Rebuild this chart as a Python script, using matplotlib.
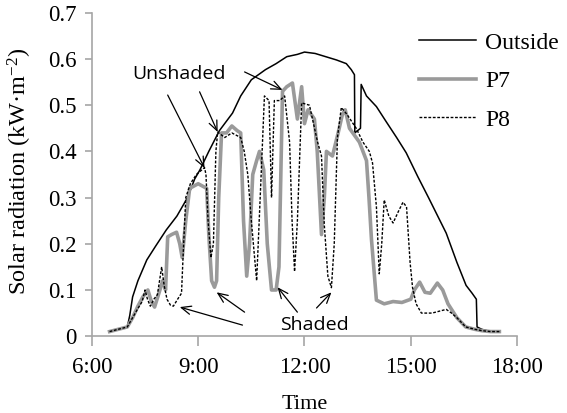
import numpy as np
import matplotlib
matplotlib.use('Agg')
import matplotlib.pyplot as plt

# hours of the day (decimal) and radiation in kW/m2
outside_t = [6.5, 6.75, 7.0, 7.07, 7.15, 7.3, 7.55, 7.8, 8.1, 8.4, 8.7, 8.9, 9.05, 9.3,
             9.6, 9.97, 10.2, 10.5, 10.9, 11.2, 11.5, 11.8, 12.0, 12.3, 12.6, 12.9,
             13.18, 13.32, 13.41, 13.42, 13.58, 13.6, 13.75, 14.03, 14.3, 14.6, 14.87,
             15.2, 15.5, 16.0, 16.3, 16.56, 16.73, 16.85, 16.87, 17.0, 17.25, 17.5]
outside = [0.01, 0.015, 0.02, 0.045, 0.085, 0.12, 0.165, 0.195, 0.23, 0.26, 0.30, 0.34,
           0.36, 0.40, 0.445, 0.483, 0.52, 0.555, 0.577, 0.59, 0.605, 0.61, 0.615, 0.612,
           0.605, 0.598, 0.59, 0.577, 0.566, 0.44, 0.45, 0.545, 0.52, 0.497, 0.465, 0.43,
           0.397, 0.345, 0.30, 0.223, 0.16, 0.11, 0.093, 0.08, 0.02, 0.015, 0.01, 0.01]

p7_t = [6.5, 6.75, 7.0, 7.15, 7.3, 7.44, 7.58, 7.68, 7.77, 7.88, 8.0, 8.08, 8.14, 8.25,
        8.39, 8.48, 8.55, 8.65, 8.76, 9.0, 9.24, 9.3, 9.38, 9.46, 9.52, 9.58, 9.66, 9.8,
        9.95, 10.1, 10.2, 10.28, 10.37, 10.45, 10.54, 10.65, 10.73, 10.85, 10.95, 11.07,
        11.2, 11.28, 11.38, 11.5, 11.66, 11.8, 11.92, 12.0, 12.1, 12.28, 12.36, 12.48,
        12.56, 12.62, 12.79, 12.95, 13.07, 13.15, 13.27, 13.55, 13.75, 13.82, 13.89,
        14.03, 14.25, 14.5, 14.75, 15.0, 15.1, 15.25, 15.4, 15.55, 15.75, 15.9, 16.05,
        16.3, 16.55, 16.8, 17.0, 17.25, 17.5]
p7 = [0.01, 0.015, 0.02, 0.04, 0.065, 0.085, 0.10, 0.075, 0.063, 0.09, 0.12, 0.10,
      0.215, 0.22, 0.225, 0.20, 0.17, 0.25, 0.32, 0.33, 0.32, 0.22, 0.12, 0.106, 0.12,
      0.30, 0.44, 0.44, 0.455, 0.445, 0.44, 0.25, 0.13, 0.20, 0.35, 0.38, 0.40, 0.36,
      0.20, 0.10, 0.10, 0.15, 0.53, 0.54, 0.548, 0.47, 0.54, 0.46, 0.49, 0.47, 0.40,
      0.22, 0.30, 0.40, 0.39, 0.44, 0.48, 0.49, 0.45, 0.42, 0.38, 0.30, 0.21, 0.078,
      0.07, 0.075, 0.073, 0.08, 0.10, 0.117, 0.095, 0.093, 0.115, 0.10, 0.07, 0.04,
      0.02, 0.015, 0.012, 0.01, 0.01]

p8_t = [6.5, 6.75, 7.0, 7.15, 7.3, 7.42, 7.5, 7.57, 7.65, 7.75, 7.85, 7.97, 8.04, 8.12,
        8.22, 8.3, 8.42, 8.53, 8.57, 8.65, 8.78, 8.95, 9.18, 9.22, 9.28, 9.36, 9.43,
        9.5, 9.55, 9.75, 9.95, 10.2, 10.3, 10.4, 10.5, 10.65, 10.75, 10.87, 11.0,
        11.07, 11.15, 11.3, 11.44, 11.58, 11.65, 11.72, 11.8, 11.92, 12.14, 12.37,
        12.48, 12.56, 12.66, 12.76, 12.84, 12.93, 13.04, 13.2, 13.46, 13.65, 13.83,
        13.92, 14.03, 14.11, 14.18, 14.25, 14.38, 14.5, 14.65, 14.78, 14.88, 14.98,
        15.05, 15.15, 15.3, 15.6, 15.85, 16.0, 16.15, 16.3, 16.55, 16.8, 17.0, 17.25, 17.5]
p8 = [0.01, 0.015, 0.02, 0.04, 0.06, 0.075, 0.10, 0.08, 0.065, 0.08, 0.09, 0.15, 0.11,
      0.08, 0.067, 0.065, 0.08, 0.093, 0.165, 0.30, 0.33, 0.35, 0.365, 0.35, 0.25, 0.17,
      0.20, 0.40, 0.442, 0.43, 0.44, 0.43, 0.40, 0.35, 0.25, 0.12, 0.30, 0.52, 0.51,
      0.30, 0.51, 0.51, 0.52, 0.42, 0.25, 0.14, 0.25, 0.505, 0.50, 0.42, 0.39, 0.24,
      0.13, 0.105, 0.20, 0.43, 0.495, 0.48, 0.45, 0.42, 0.40, 0.375, 0.28, 0.135, 0.20,
      0.295, 0.26, 0.245, 0.27, 0.29, 0.28, 0.16, 0.105, 0.07, 0.05, 0.05, 0.055,
      0.058, 0.05, 0.04, 0.02, 0.015, 0.012, 0.01, 0.01]

x_ticks = [6, 9, 12, 15, 18]
x_labels = ['6:00', '9:00', '12:00', '15:00', '18:00']
y_ticks = [0, 0.1, 0.2, 0.3, 0.4, 0.5, 0.6, 0.7]
y_labels = ['0', '0.1', '0.2', '0.3', '0.4', '0.5', '0.6', '0.7']

plt.rcParams['font.family'] = 'Liberation Serif'
plt.rcParams['mathtext.fontset'] = 'custom'
plt.rcParams['mathtext.rm'] = 'Liberation Serif'
plt.rcParams['mathtext.it'] = 'Liberation Serif:italic'

fig = plt.figure(figsize=(5.67, 4.13), dpi=100)
ax = fig.add_axes([0.162, 0.186, 0.750, 0.783])

ax.plot(outside_t, outside, color='black', lw=1.1, label='Outside')
ax.plot(p7_t, p7, color='#9a9a9a', lw=2.6, label='P7')
ax.plot(p8_t, p8, color='black', lw=1.0, ls=(0, (2.0, 1.2)), label='P8')

ax.set_xlim(6, 18)
ax.set_ylim(0, 0.7)
ax.set_xticks(x_ticks)
ax.set_xticklabels(x_labels)
ax.set_yticks(y_ticks)
ax.set_yticklabels(y_labels)
ax.tick_params(labelsize=16.5, color='#a6a6a6', width=1.2)
ax.tick_params(axis='x', length=7, pad=8)
ax.tick_params(axis='y', length=5, pad=6)
for side in ['top', 'right']:
    ax.spines[side].set_visible(False)
for side in ['left', 'bottom']:
    ax.spines[side].set_color('#a6a6a6')
    ax.spines[side].set_linewidth(1.2)

ax.set_xlabel('Time', fontsize=16, labelpad=12)
ax.set_ylabel('Solar radiation (kW·m$^{\\mathrm{-2}}$)', fontsize=17.5)
ax.yaxis.set_label_coords(-0.136, 0.51)

# annotations
arr = dict(arrowstyle='->,head_length=0.7,head_width=0.3', color='black', lw=0.9,
           shrinkA=0, shrinkB=0)
ax.text(8.45, 0.568, 'Unshaded', family='Open Sans', fontsize=14, ha='center', va='center')
ax.annotate('', xy=(9.18, 0.364), xytext=(8.14, 0.522), arrowprops=arr)
ax.annotate('', xy=(9.55, 0.442), xytext=(9.04, 0.529), arrowprops=arr)
ax.annotate('', xy=(11.38, 0.533), xytext=(10.31, 0.572), arrowprops=arr)

ax.text(12.28, 0.024, 'Shaded', family='Open Sans', fontsize=14, ha='center', va='center')
ax.annotate('', xy=(8.48, 0.063), xytext=(10.25, 0.024), arrowprops=arr)
ax.annotate('', xy=(9.52, 0.095), xytext=(10.31, 0.052), arrowprops=arr)
ax.annotate('', xy=(11.24, 0.106), xytext=(11.8, 0.052), arrowprops=arr)
ax.annotate('', xy=(12.76, 0.095), xytext=(12.34, 0.061), arrowprops=arr)

fig.legend(loc='upper left', bbox_to_anchor=(0.723, 0.945), frameon=False, fontsize=17,
           handlelength=2.4, handletextpad=0.4, labelspacing=0.72, borderaxespad=0)

fig.savefig('out.png', dpi=100)
